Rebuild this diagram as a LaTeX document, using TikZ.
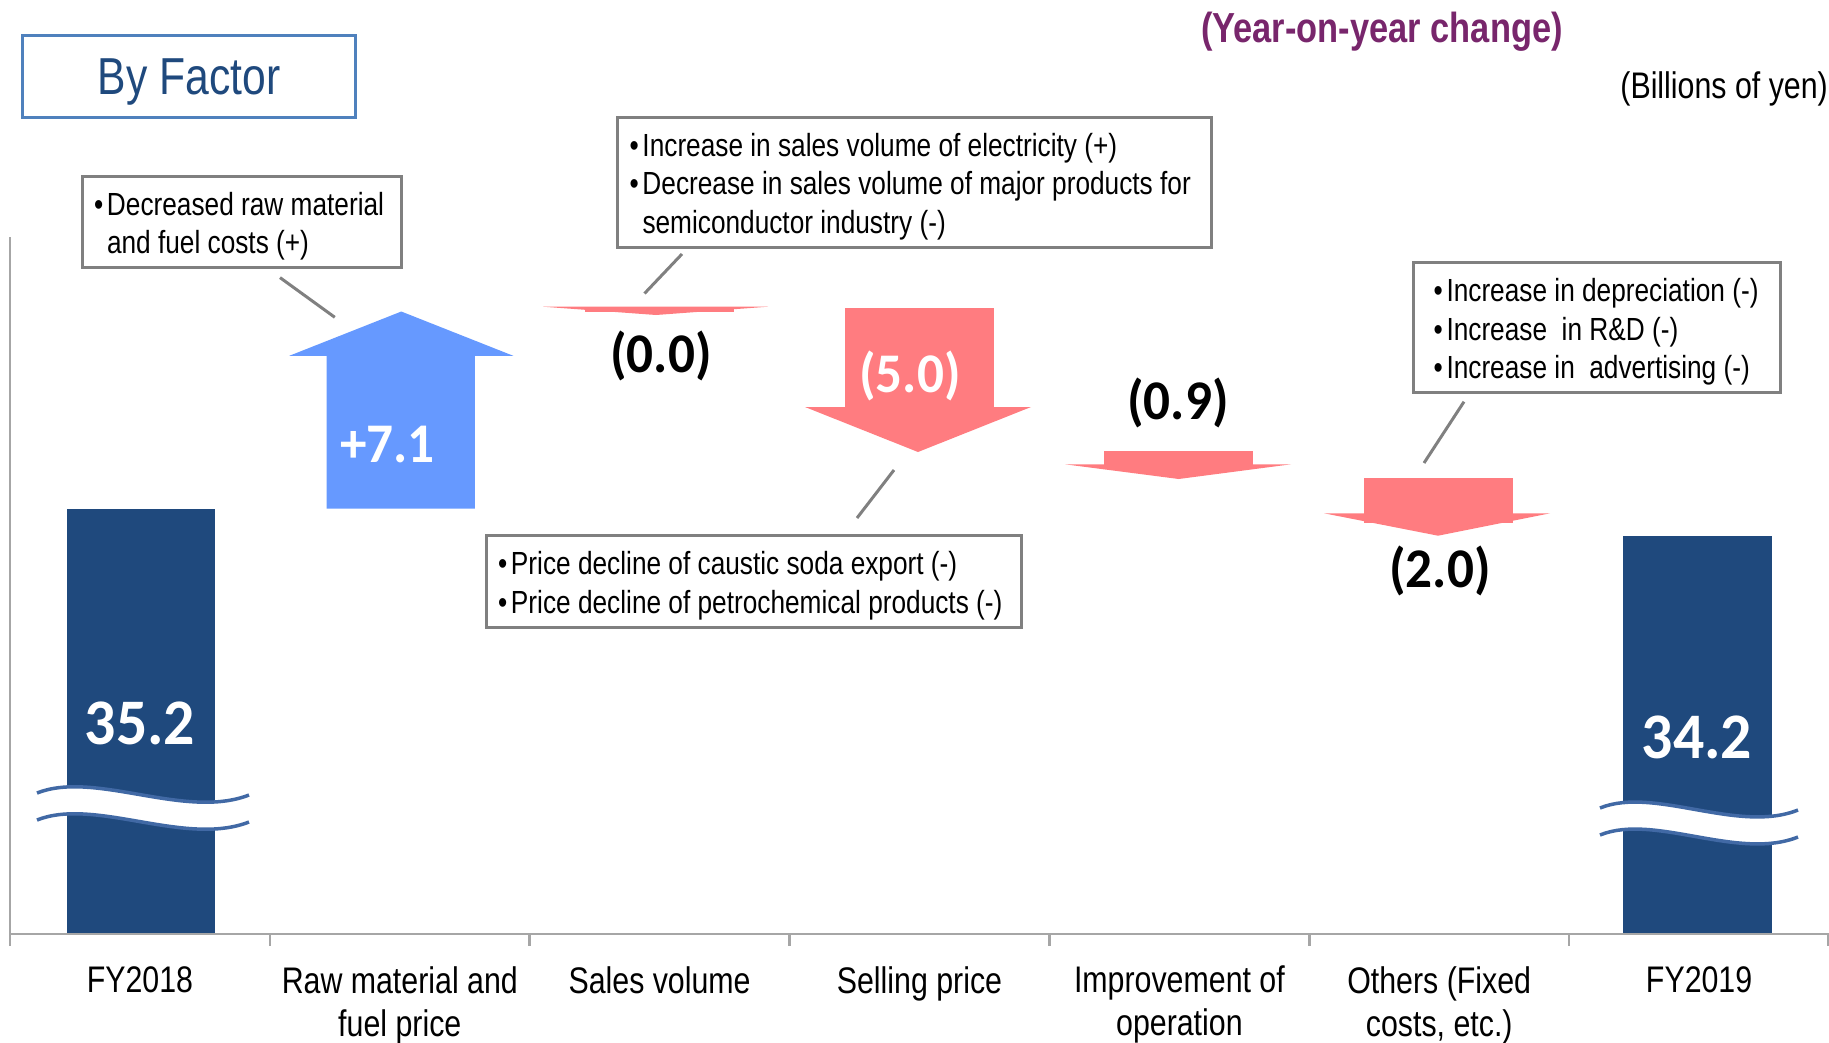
\documentclass[tikz,border=0pt]{standalone}
\usepackage{fontspec}
\setmainfont{Liberation Sans}[FakeStretch=0.82]
\newfontfamily\numfont{Carlito}[FakeStretch=0.95]
\usetikzlibrary{positioning}
\definecolor{navy}{RGB}{31,73,125}
\definecolor{upblue}{RGB}{102,153,255}
\definecolor{downpink}{RGB}{255,124,128}
\definecolor{notegray}{RGB}{128,128,128}
\definecolor{axisgray}{RGB}{166,166,166}
\definecolor{headblue}{RGB}{79,129,189}
\definecolor{yoyviolet}{RGB}{120,38,108}
\definecolor{breakblue}{RGB}{65,105,165}
\newcommand{\notebullet}{\makebox[13pt][l]{\textbullet}}
\newcommand{\notetop}{\rule{0pt}{32pt}}
\tikzset{
  bar/.style={fill=navy},
  uparrow/.style={fill=upblue},
  downarrow/.style={fill=downpink},
  note/.style={
    draw=notegray,
    line width=3pt,
    align=flush left,
    inner xsep=12pt,
    inner ysep=0pt,
    font=\fontsize{32}{38.5}\selectfont
  },
  leader/.style={draw=notegray, line width=3pt},
  axis/.style={draw=axisgray, line width=2.5pt},
  cat/.style={
    align=center,
    anchor=north,
    inner sep=0pt,
    font=\fontsize{37}{43}\selectfont
  },
  val/.style={inner sep=0pt, font=\numfont\bfseries\fontsize{56}{60}\selectfont},
  bigval/.style={inner sep=0pt, text=white, font=\numfont\bfseries\fontsize{65}{70}\selectfont},
  breakline/.style={draw=breakblue, line width=3.5pt}
}
\begin{document}
\begin{tikzpicture}[x=1pt, y=-1pt]
\useasboundingbox (0,0) rectangle (1829,1042);

% Heading
\node[draw=headblue, line width=3pt, minimum width=332.6, minimum height=82.3,
      text depth=0pt, text=navy, font=\fontsize{52}{56}\selectfont] (title) at (189.2,76.7) {By Factor};
\node[inner sep=0pt, text=yoyviolet, font=\bfseries\fontsize{42}{46}\selectfont] (yoy) at (1382,32) {(Year-on-year change)};
\node[anchor=east, inner sep=0pt, font=\fontsize{37}{42}\selectfont] (unit) at (1828,89) {(Billions of yen)};

% Start and end bars
\fill[bar] (66.5,508.6) rectangle (214.6,934);
\fill[bar] (1622.6,535.5) rectangle (1772,934);

% Breaks in the bars
\fill[white] (37,793) .. controls (95,770) and (185,820) .. (249,795) -- (249,822)
  .. controls (185,847) and (95,797) .. (37,820) -- cycle;
\draw[breakline] (37,793) .. controls (95,770) and (185,820) .. (249,795);
\draw[breakline] (37,820) .. controls (95,797) and (185,847) .. (249,822);
\fill[white] (1600,808) .. controls (1654,786) and (1738,834) .. (1798,810) -- (1798,837)
  .. controls (1738,861) and (1654,813) .. (1600,835) -- cycle;
\draw[breakline] (1600,808) .. controls (1654,786) and (1738,834) .. (1798,810);
\draw[breakline] (1600,835) .. controls (1654,813) and (1738,861) .. (1798,837);

% Steps
\fill[uparrow] (326.6,508.6) -- (326.6,355.8) -- (289.3,355.8) -- (401.3,311.5)
  -- (513.3,355.8) -- (474.8,355.8) -- (474.8,508.6) -- cycle;
\fill[downarrow] (585,306.7) rectangle (734,311.7);
\fill[downarrow] (543,306.7) -- (768,306.7) -- (656,315) -- cycle;
\fill[downarrow] (844.5,308) rectangle (993.8,407.5);
\fill[downarrow] (805,407) -- (1031,407) -- (918,452) -- cycle;
\fill[downarrow] (1104,451) rectangle (1253,464.5);
\fill[downarrow] (1065,464.3) -- (1291,464.3) -- (1178.7,479) -- cycle;
\fill[downarrow] (1363.8,478.3) rectangle (1513,523);
\fill[downarrow] (1324,513.3) -- (1550,513.3) -- (1438,535.7) -- cycle;

% Values
\node[bigval] (val18) at (140,723.5) {35.2};
\node[bigval] (val19) at (1697,737) {34.2};
\node[val, text=white] (rawval) at (387.5,444) {+7.1};
\node[val] (volval) at (661,356) {(0.0)};
\node[val, text=white] (priceval) at (910,376) {(5.0)};
\node[val] (opval) at (1178,403) {(0.9)};
\node[val] (othval) at (1440,571) {(2.0)};

% Axis
\draw[axis] (10,237) -- (10,934) -- (1829,934);
\draw[axis] (10,934) -- ++(0,12) (269.9,934) -- ++(0,12) (529.7,934) -- ++(0,12)
  (789.6,934) -- ++(0,12) (1049.4,934) -- ++(0,12) (1309.3,934) -- ++(0,12)
  (1569.1,934) -- ++(0,12) (1828,934) -- ++(0,12);

% Category labels
\node[cat] (lab18) at (139.9,966) {FY2018};
\node[cat] (labraw) at (399.8,966) {Raw material and\\fuel price};
\node[cat] (labvol) at (659.6,966) {Sales volume};
\node[cat] (labprice) at (919.5,966) {Selling price};
\node[cat] (labop) at (1179.4,966) {Improvement of\\operation};
\node[cat] (laboth) at (1439.2,966) {Others (Fixed\\costs, etc.)};
\node[cat] (lab19) at (1699.1,966) {FY2019};

% Callouts
\node[note, text width=295.5, minimum height=90.5] (rawnote) at (241.75,221.75)
  {\notetop\notebullet Decreased raw material\\\hspace*{13pt}and fuel costs (+)};
\node[note, text width=569.5, minimum height=130] (volnote) at (914.25,182)
  {\notetop\notebullet Increase in sales volume of electricity (+)\\
   \notebullet Decrease in sales volume of major products for\\
   \hspace*{13pt}semiconductor industry (-)};
\node[note, text width=511, minimum height=91.2] (pricenote) at (753.5,581.4)
  {\notetop\notebullet Price decline of caustic soda export (-)\\
   \notebullet Price decline of petrochemical products (-)};
\node[note, inner xsep=20pt, text width=327, minimum height=130] (othnote) at (1597,327.5)
  {\notetop\notebullet Increase in depreciation (-)\\
   \notebullet Increase\ \ in R\&D (-)\\
   \notebullet Increase in\ \ advertising (-)};

% Leaders
\coordinate (rawfrom) at (280,277.6);
\coordinate (rawto) at (334.8,317.3);
\coordinate (volfrom) at (682,254);
\coordinate (volto) at (644.5,293.5);
\coordinate (pricefrom) at (894,470);
\coordinate (priceto) at (857,518);
\coordinate (othfrom) at (1464,401.7);
\coordinate (othto) at (1424,463);
\draw[leader] (rawfrom) -- (rawto);
\draw[leader] (volfrom) -- (volto);
\draw[leader] (pricefrom) -- (priceto);
\draw[leader] (othfrom) -- (othto);

\end{tikzpicture}
\end{document}
